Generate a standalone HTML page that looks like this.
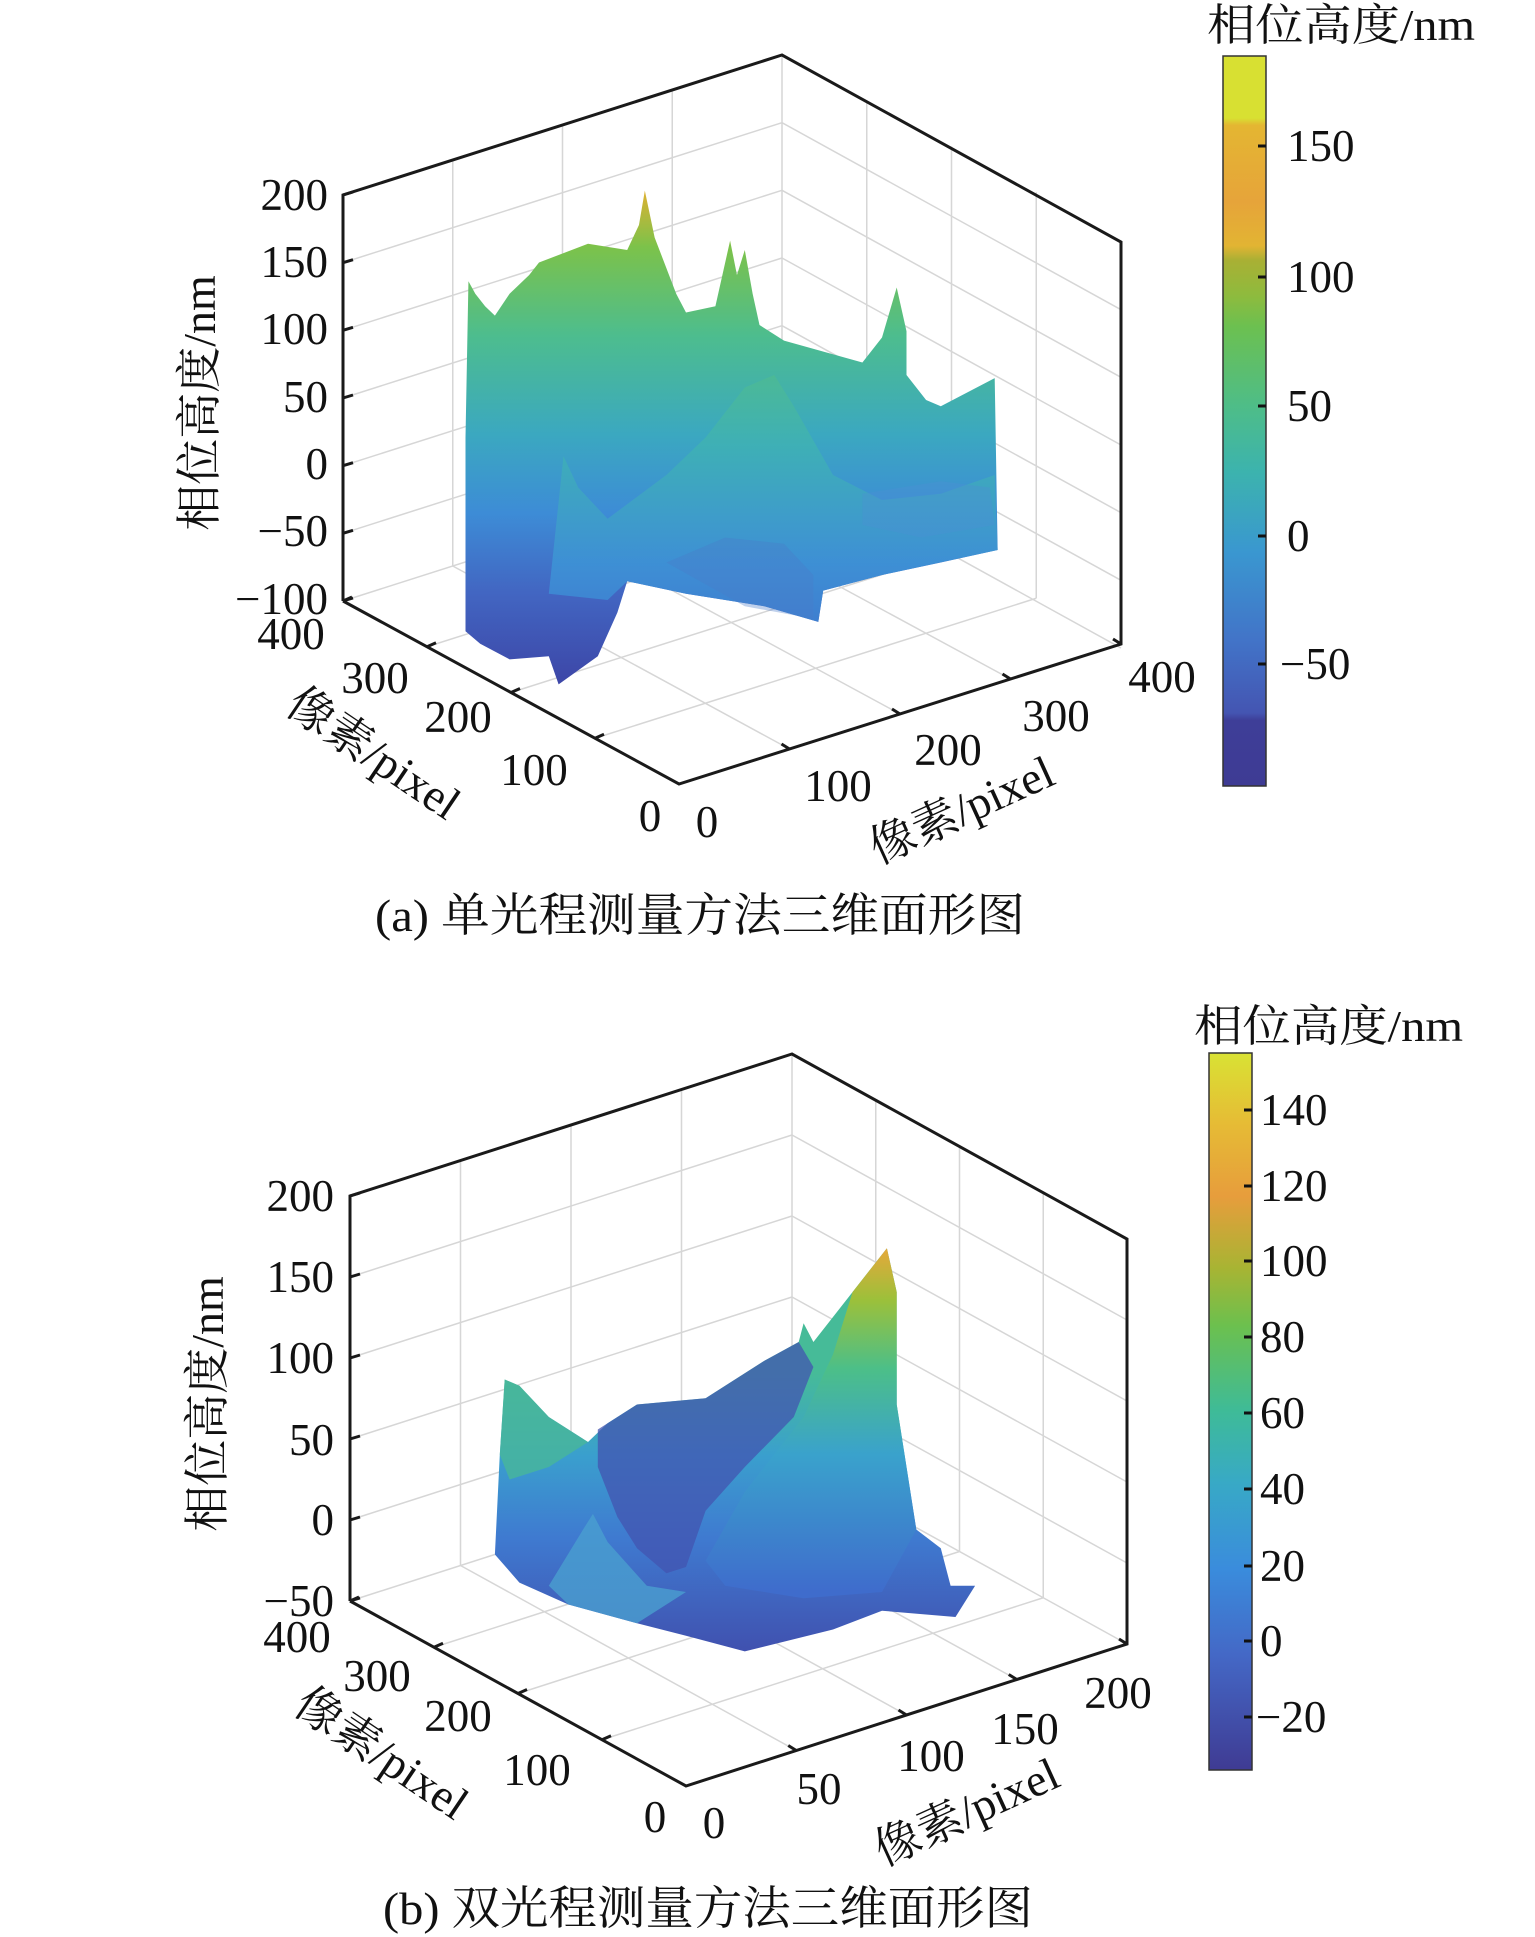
<!DOCTYPE html>
<html><head><meta charset="utf-8">
<style>
html,body{margin:0;padding:0;background:#fff;}
svg{display:block;}
text{font-family:"Liberation Serif","Noto Serif CJK SC",serif;fill:#111;}
</style></head>
<body>
<svg id="s" width="1535" height="1937" viewBox="0 0 1535 1937" xmlns="http://www.w3.org/2000/svg">
<defs>
<linearGradient id="cbA" x1="0" y1="0" x2="0" y2="1">
<stop offset="0" stop-color="#d8e032"/><stop offset="0.085" stop-color="#d8e032"/>
<stop offset="0.095" stop-color="#e4b632"/><stop offset="0.2" stop-color="#e6a43a"/>
<stop offset="0.26" stop-color="#e2b433"/><stop offset="0.28" stop-color="#a9b034"/>
<stop offset="0.33" stop-color="#8dbb3e"/><stop offset="0.37" stop-color="#6cc050"/>
<stop offset="0.48" stop-color="#4ebd88"/><stop offset="0.57" stop-color="#3cb3ae"/>
<stop offset="0.68" stop-color="#3a97d0"/><stop offset="0.8" stop-color="#4274c8"/>
<stop offset="0.9" stop-color="#4455b2"/><stop offset="0.91" stop-color="#3e3e98"/><stop offset="1" stop-color="#3e3b94"/>
</linearGradient>
<linearGradient id="cbB" x1="0" y1="0" x2="0" y2="1">
<stop offset="0" stop-color="#d9e234"/><stop offset="0.1" stop-color="#e6bb35"/>
<stop offset="0.2" stop-color="#e79d3c"/><stop offset="0.3" stop-color="#a8b433"/>
<stop offset="0.38" stop-color="#6cc04e"/><stop offset="0.5" stop-color="#3ebb98"/>
<stop offset="0.6" stop-color="#38a9c6"/><stop offset="0.72" stop-color="#3a8cdc"/>
<stop offset="0.84" stop-color="#4468c6"/><stop offset="1" stop-color="#3f3b93"/>
</linearGradient>
<linearGradient id="sA" gradientUnits="userSpaceOnUse" x1="0" y1="300" x2="0" y2="1090">
<stop offset="0" stop-color="#e4b030"/><stop offset="0.12" stop-color="#7cc24a"/>
<stop offset="0.3" stop-color="#4dbd8e"/><stop offset="0.5" stop-color="#3ba8c0"/>
<stop offset="0.66" stop-color="#3d8cd6"/><stop offset="0.82" stop-color="#4266c2"/>
<stop offset="1" stop-color="#3d47a8"/>
</linearGradient>
<linearGradient id="sA2" gradientUnits="userSpaceOnUse" x1="0" y1="520" x2="0" y2="1000">
<stop offset="0" stop-color="#56c07e"/><stop offset="0.4" stop-color="#3fb1b4"/>
<stop offset="0.8" stop-color="#3d92d6"/><stop offset="1" stop-color="#3e82d2"/>
</linearGradient>
<linearGradient id="sB" gradientUnits="userSpaceOnUse" x1="0" y1="650" x2="0" y2="1090">
<stop offset="0" stop-color="#46bb98"/><stop offset="0.3" stop-color="#3a9fce"/>
<stop offset="0.6" stop-color="#3f7ad0"/><stop offset="1" stop-color="#4052b0"/>
</linearGradient>
<linearGradient id="sB2" gradientUnits="userSpaceOnUse" x1="0" y1="450" x2="0" y2="1000">
<stop offset="0" stop-color="#e6a83a"/><stop offset="0.15" stop-color="#9cc03a"/>
<stop offset="0.35" stop-color="#4cbf88"/><stop offset="0.6" stop-color="#3aa2cc"/>
<stop offset="1" stop-color="#3f6ccc"/>
</linearGradient>
</defs>
<g id="grid" stroke="#d6d6d6" stroke-width="1.5" fill="none"></g>

<!-- surface A -->
<g transform="scale(0.98,0.625)">
<polygon fill="url(#sA)" points="478,450 485,470 495,490 505,505 520,470 540,440 550,420 600,390 640,400 652,360 658,305 668,380 690,470 700,500 730,490 740,420 745,385 752,440 760,400 768,470 775,520 800,545 880,580 900,540 915,460 925,530 925,600 945,640 960,650 1015,605 1018,880 960,900 900,920 840,945 835,995 780,970 700,950 640,930 630,980 610,1050 570,1095 560,1050 520,1055 490,1030 475,1010 475,700"/>
<polygon fill="url(#sA2)" opacity="0.9" points="575,730 590,780 620,830 680,760 720,700 760,620 790,600 810,650 850,760 900,800 960,790 1015,760 1018,880 900,920 840,945 835,995 780,970 700,950 640,930 620,960 560,950"/>
<polygon fill="#4a7cc8" opacity="0.35" points="680,900 740,860 800,870 830,920 830,990 760,970"/>
<polygon fill="#4d8fd4" opacity="0.35" points="880,790 960,770 1010,780 1015,840 940,860 880,840"/>
</g>

<!-- surface B -->
<g transform="translate(0,967) scale(0.98,0.625)">
<polygon fill="url(#sB)" points="515,660 530,670 560,720 600,760 620,730 650,700 720,690 780,630 815,600 820,570 830,600 850,560 870,520 890,480 905,450 915,520 915,700 935,900 960,930 970,990 995,990 975,1040 900,1030 850,1060 760,1095 700,1070 650,1050 580,1020 530,985 505,940 510,780"/>
<polygon fill="#4354b0" opacity="0.75" points="610,740 650,700 720,690 780,630 815,600 830,640 810,720 760,800 720,870 700,960 680,970 650,930 630,880 610,800"/>
<polygon fill="url(#sB2)" points="870,520 890,480 905,450 915,520 915,700 935,900 900,1000 820,1010 740,990 720,950 760,840 820,720 850,620"/>
<polygon fill="#49b69a" opacity="0.8" points="515,660 530,670 560,720 600,760 560,800 520,820 510,780"/>
<polygon fill="#4a9fcf" opacity="0.8" points="595,900 605,875 620,920 660,990 700,1000 650,1050 580,1020 560,990"/>
</g>

<g id="axes" stroke="#1a1a1a" stroke-width="3" fill="none" stroke-linejoin="miter">
<polyline points="343,601 343,195 782,55 1121,242 1121,644 679,784 343,601"/>
<polyline points="350,1601 350,1196 792,1054 1127,1239 1127,1644 686,1786 350,1601"/>
</g>
<g id="ticks" stroke="#1a1a1a" stroke-width="3"></g>

<!-- colorbars -->
<rect x="1223" y="56" width="43" height="730" fill="url(#cbA)" stroke="#333" stroke-width="1.5"/>
<rect x="1209" y="1053" width="43" height="717" fill="url(#cbB)" stroke="#333" stroke-width="1.5"/>
<g stroke="#111" stroke-width="3">
<line x1="1258" y1="146" x2="1266" y2="146"/><line x1="1258" y1="277" x2="1266" y2="277"/><line x1="1258" y1="406" x2="1266" y2="406"/><line x1="1258" y1="536" x2="1266" y2="536"/><line x1="1258" y1="664" x2="1266" y2="664"/>
<line x1="1244" y1="1110" x2="1252" y2="1110"/><line x1="1244" y1="1186" x2="1252" y2="1186"/><line x1="1244" y1="1261" x2="1252" y2="1261"/><line x1="1244" y1="1337" x2="1252" y2="1337"/><line x1="1244" y1="1413" x2="1252" y2="1413"/><line x1="1244" y1="1489" x2="1252" y2="1489"/><line x1="1244" y1="1566" x2="1252" y2="1566"/><line x1="1244" y1="1641" x2="1252" y2="1641"/><line x1="1244" y1="1717" x2="1252" y2="1717"/>
</g>

<!-- texts panel A -->
<g font-size="45">
<text x="1207" y="40" font-size="44" textLength="268" lengthAdjust="spacingAndGlyphs">相位高度/nm</text>
<text x="1287" y="161">150</text><text x="1287" y="292">100</text><text x="1287" y="421">50</text><text x="1287" y="551">0</text><text x="1280" y="679">−50</text>
<g text-anchor="end">
<text x="328" y="210">200</text><text x="328" y="277">150</text><text x="328" y="344">100</text><text x="328" y="412">50</text><text x="328" y="479">0</text><text x="328" y="546">−50</text><text x="328" y="614">−100</text>
</g>
<g text-anchor="middle">
<text x="291" y="649">400</text><text x="375" y="693">300</text><text x="458" y="732">200</text><text x="534" y="785">100</text><text x="650" y="831">0</text>
<text x="707" y="837">0</text><text x="838" y="801">100</text><text x="948" y="765">200</text><text x="1056" y="731">300</text><text x="1162" y="692">400</text>
</g>
<text transform="translate(215,403) rotate(-90)" text-anchor="middle" font-size="46">相位高度/nm</text>
<text transform="translate(365,766) rotate(34)" text-anchor="middle" font-size="46">像素/pixel</text>
<text transform="translate(968,824) rotate(-24.5)" text-anchor="middle" font-size="46">像素/pixel</text>
<text x="700" y="931" text-anchor="middle" font-size="46" textLength="650" lengthAdjust="spacingAndGlyphs">(a) 单光程测量方法三维面形图</text>
</g>

<!-- texts panel B -->
<g font-size="45">
<text x="1194" y="1041" font-size="44" textLength="269" lengthAdjust="spacingAndGlyphs">相位高度/nm</text>
<text x="1260" y="1125">140</text><text x="1260" y="1201">120</text><text x="1260" y="1276">100</text><text x="1260" y="1352">80</text><text x="1260" y="1428">60</text><text x="1260" y="1504">40</text><text x="1260" y="1581">20</text><text x="1260" y="1656">0</text><text x="1256" y="1732">−20</text>
<g text-anchor="end">
<text x="334" y="1211">200</text><text x="334" y="1292">150</text><text x="334" y="1373">100</text><text x="334" y="1455">50</text><text x="334" y="1535">0</text><text x="334" y="1616">−50</text>
</g>
<g text-anchor="middle">
<text x="297" y="1652">400</text><text x="377" y="1691">300</text><text x="458" y="1731">200</text><text x="537" y="1785">100</text><text x="655" y="1832">0</text>
<text x="714" y="1838">0</text><text x="819" y="1804">50</text><text x="931" y="1771">100</text><text x="1025" y="1744">150</text><text x="1118" y="1708">200</text>
</g>
<text transform="translate(223,1404) rotate(-90)" text-anchor="middle" font-size="46">相位高度/nm</text>
<text transform="translate(373,1766) rotate(34)" text-anchor="middle" font-size="46">像素/pixel</text>
<text transform="translate(973,1826) rotate(-24.5)" text-anchor="middle" font-size="46">像素/pixel</text>
<text x="708" y="1924" text-anchor="middle" font-size="46" textLength="650" lengthAdjust="spacingAndGlyphs">(b) 双光程测量方法三维面形图</text>
</g>
</svg>
<script>
(function(){
var NS="http://www.w3.org/2000/svg";
var grid=document.getElementById('grid'), ticks=document.getElementById('ticks');
function L(g,a,b){var l=document.createElementNS(NS,'line');l.setAttribute('x1',a[0]);l.setAttribute('y1',a[1]);l.setAttribute('x2',b[0]);l.setAttribute('y2',b[1]);g.appendChild(l);}
function lerp(a,b,t){return [a[0]+(b[0]-a[0])*t,a[1]+(b[1]-a[1])*t];}
function panel(LT,LB,TV,BV,RB,RT,nz,nx,ny){
 var H=LB[1]-LT[1];
 var BB=[TV[0],TV[1]+H];
 for(var i=0;i<=nz;i++){var dy=H*i/nz;
  var a=[LT[0],LT[1]+dy],b=[TV[0],TV[1]+dy],c=[RT[0],RT[1]+dy];
  if(i>0){L(grid,a,b);L(grid,b,c);}
  L(ticks,a,[a[0]+10,a[1]-3]);
 }
 L(grid,TV,BB);
 for(var k=1;k<nx;k++){var p=lerp(LB,BB,k/nx);L(grid,p,[p[0],p[1]-H]);}
 for(var k=1;k<ny;k++){var p=lerp(RB,BB,k/ny);L(grid,p,[p[0],p[1]-H]);}
 for(var k=1;k<nx;k++){L(grid,lerp(BV,RB,k/nx),lerp(LB,BB,k/nx));}
 for(var j=1;j<ny;j++){L(grid,lerp(BV,LB,j/ny),lerp(RB,BB,j/ny));}
 for(var k=1;k<=nx;k++){var p=lerp(BV,RB,k/nx);L(ticks,p,[p[0]-8,p[1]-5]);}
 for(var j=1;j<=ny;j++){var p=lerp(BV,LB,j/ny);L(ticks,p,[p[0]+9,p[1]-4]);}
}
panel([343,195],[343,601],[782,55],[679,784],[1121,644],[1121,242],6,4,4);
panel([350,1196],[350,1601],[792,1054],[686,1786],[1127,1644],[1127,1239],5,4,4);
})();
</script>
</body></html>
